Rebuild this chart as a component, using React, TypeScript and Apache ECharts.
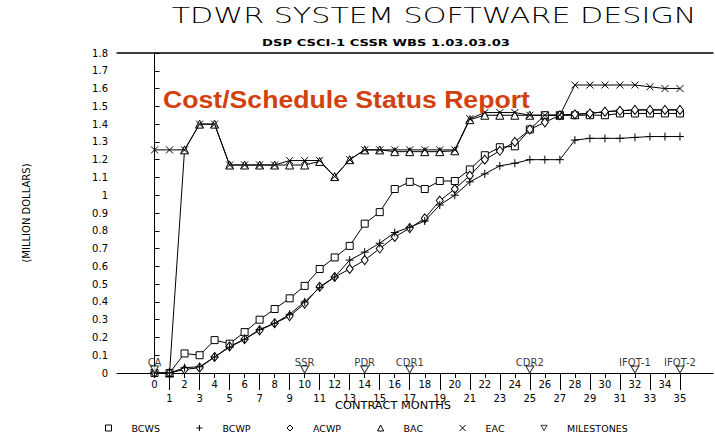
import React, { useEffect, useRef } from 'react';
import * as echarts from 'echarts';

// ---- data ----
const months = [0, 1, 2, 3, 4, 5, 6, 7, 8, 9, 10, 11, 12, 13, 14, 15, 16, 17, 18, 19, 20, 21, 22, 23, 24, 25, 26, 27, 28, 29, 30, 31, 32, 33, 34, 35];
const oddMonths = [1, 3, 5, 7, 9, 11, 13, 15, 17, 19, 21, 23, 25, 27, 29, 31, 33, 35];

const bcws = [0, 0, 0.11, 0.10, 0.185, 0.165, 0.23, 0.30, 0.36, 0.42, 0.49, 0.585, 0.65, 0.715, 0.84, 0.905, 1.035, 1.075, 1.035, 1.08, 1.08, 1.145, 1.225, 1.27, 1.275, 1.37, 1.45, 1.45, 1.45, 1.45, 1.45, 1.46, 1.46, 1.46, 1.46, 1.46];
const bcwp = [0, 0, 0.03, 0.035, 0.09, 0.145, 0.19, 0.245, 0.28, 0.33, 0.40, 0.48, 0.54, 0.635, 0.68, 0.73, 0.79, 0.82, 0.855, 0.945, 1.00, 1.075, 1.12, 1.165, 1.18, 1.20, 1.20, 1.20, 1.31, 1.32, 1.32, 1.32, 1.325, 1.33, 1.33, 1.33];
const acwp = [0, 0, 0.02, 0.03, 0.09, 0.15, 0.19, 0.24, 0.28, 0.32, 0.39, 0.485, 0.54, 0.585, 0.635, 0.70, 0.765, 0.815, 0.87, 0.97, 1.035, 1.11, 1.20, 1.25, 1.30, 1.37, 1.41, 1.45, 1.455, 1.46, 1.47, 1.475, 1.48, 1.48, 1.48, 1.48];
const bac = [null, 0, 1.255, 1.40, 1.40, 1.17, 1.17, 1.17, 1.17, 1.17, 1.17, 1.19, 1.105, 1.20, 1.255, 1.255, 1.245, 1.245, 1.245, 1.245, 1.25, 1.425, 1.45, 1.45, 1.45, 1.45, 1.45, 1.45, 1.455, 1.46, 1.47, 1.475, 1.48, 1.48, 1.48, 1.48];
const eac = [1.255, 1.255, 1.255, 1.40, 1.40, 1.17, 1.17, 1.17, 1.17, 1.195, 1.195, 1.195, 1.105, 1.20, 1.255, 1.255, 1.255, 1.255, 1.255, 1.255, 1.255, 1.43, 1.465, 1.465, 1.465, 1.45, 1.45, 1.45, 1.62, 1.62, 1.62, 1.62, 1.62, 1.61, 1.60, 1.60];

const milestoneMonths = [0, 10, 14, 17, 25, 32, 35];
const milestoneNames = ['CA', 'SSR', 'PDR', 'CDR1', 'CDR2', 'IFQT-1', 'IFQT-2'];

const TITLE = 'TDWR SYSTEM SOFTWARE DESIGN';
const SUBTITLE = 'DSP CSCI-1 CSSR WBS 1.03.03.03';
const OVERLAY = 'Cost/Schedule Status Report';
const X_NAME = 'CONTRACT MONTHS';
const Y_NAME = '(MILLION DOLLARS)';

const FONT = 'DejaVu Sans';

const PLUS = 'path://M5,0L5,10M0,5L10,5';
const CROSS = 'path://M0,0L10,10M10,0L0,10';
const DOWN_TRI = 'path://M0,0L10,0L5,9Z';

function measure(text: string, font: string): number {
  const ctx = document.createElement('canvas').getContext('2d');
  if (!ctx) return 100;
  ctx.font = font;
  return ctx.measureText(text).width || 100;
}

function pairs(vals: (number | null)[]) {
  return months.map((m, i) => [m, vals[i] == null ? '-' : vals[i]]);
}

export default function App() {
  const ref = useRef<HTMLDivElement>(null);
  useEffect(() => {
    if (!ref.current) return;
    const chart = echarts.init(ref.current, null, { renderer: 'svg' });

    const titleFont = `200 21px "${FONT}"`;
    const subFont = `600 9px "${FONT}"`;
    const redFont = `bold 24px "Liberation Sans"`;
    const xnFont = `10px "${FONT}"`;
    const titleSx = 525 / measure(TITLE, titleFont);
    const subSx = 248 / measure(SUBTITLE, subFont);
    const redSx = 367 / measure(OVERLAY, redFont);
    const xnSx = 116 / measure(X_NAME, xnFont);

    const lineBase = {
      type: 'line' as const,
      clip: false,
      animation: false,
      symbolSize: 7,
      showAllSymbol: true,
      lineStyle: { color: '#000', width: 1 },
      itemStyle: { color: '#fff', borderColor: '#000', borderWidth: 1 },
      emphasis: { disabled: true },
    };

    const xMin = -2.5;
    const xMax = 37.2;

    const option: any = {
      animation: false,
      backgroundColor: '#fff',
      textStyle: { fontFamily: FONT, color: '#000' },
      grid: { left: 117, right: 2, top: 53, bottom: 60 },
      xAxis: [
        {
          type: 'value',
          min: xMin,
          max: xMax,
          position: 'bottom',
          axisLine: { show: true, onZero: false, lineStyle: { color: '#000', width: 1 } },
          axisTick: { show: true, customValues: months, length: 5, lineStyle: { color: '#000' } },
          axisLabel: {
            show: true,
            customValues: months,
            margin: 4,
            fontSize: 10,
            lineHeight: 14,
            color: '#000',
            fontFamily: FONT,
            formatter: (v: number) => (Math.round(v) % 2 === 1 ? '\n' + v : String(v)),
          },
          splitLine: { show: false },
        },
        {
          type: 'value',
          min: xMin,
          max: xMax,
          position: 'bottom',
          axisLine: { show: false, onZero: false },
          axisTick: { show: true, customValues: oddMonths, length: 17, lineStyle: { color: '#000' } },
          axisLabel: { show: false },
          splitLine: { show: false },
        },
        {
          type: 'value',
          min: xMin,
          max: xMax,
          position: 'top',
          axisLine: { show: true, onZero: false, lineStyle: { color: '#000', width: 1.5 } },
          axisTick: { show: false },
          axisLabel: { show: false },
          splitLine: { show: false },
        },
      ],
      yAxis: {
        type: 'value',
        min: 0,
        max: 1.8,
        interval: 0.1,
        name: Y_NAME,
        nameLocation: 'middle',
        nameGap: 86,
        nameRotate: 90,
        nameTextStyle: { fontSize: 10, color: '#000', fontFamily: FONT },
        axisLine: { show: true, lineStyle: { color: '#000', width: 1 } },
        axisTick: { show: true, inside: true, length: 5, lineStyle: { color: '#000' } },
        axisLabel: {
          margin: 9,
          fontSize: 10,
          color: '#000',
          fontFamily: FONT,
          formatter: (v: number) => String(Number(v.toFixed(1))),
        },
        splitLine: { show: false },
      },
      legend: {
        left: 100,
        top: 418,
        itemWidth: 6,
        itemHeight: 6,
        itemGap: 36,
        itemStyle: { borderWidth: 1 },
        textStyle: {
          fontFamily: FONT,
          fontSize: 9.5,
          color: '#000',
          rich: { n: { padding: [0, 0, 0, 15], fontSize: 9.5, fontFamily: FONT, color: '#000' } },
        },
        formatter: (name: string) => `{n|${name}}`,
        selectedMode: false,
        data: [
          { name: 'BCWS', icon: 'rect' },
          { name: 'BCWP', icon: PLUS },
          { name: 'ACWP', icon: 'diamond' },
          { name: 'BAC', icon: 'triangle' },
          { name: 'EAC', icon: CROSS },
          { name: 'MILESTONES', icon: DOWN_TRI },
        ],
      },
      series: [
        { ...lineBase, name: 'BAC', symbol: 'triangle', symbolSize: 8, data: pairs(bac), z: 3 },
        { ...lineBase, name: 'EAC', symbol: CROSS, symbolSize: 7, itemStyle: { color: 'transparent', borderColor: '#000', borderWidth: 1 }, data: pairs(eac), z: 4 },
        { ...lineBase, name: 'BCWS', symbol: 'rect', data: pairs(bcws), z: 3 },
        { ...lineBase, name: 'ACWP', symbol: 'diamond', symbolSize: [7, 9], data: pairs(acwp), z: 3 },
        { ...lineBase, name: 'BCWP', symbol: PLUS, symbolSize: 8, itemStyle: { color: 'transparent', borderColor: '#000', borderWidth: 1 }, data: pairs(bcwp), z: 4 },
        {
          type: 'scatter',
          name: 'MILESTONES',
          clip: false,
          symbol: DOWN_TRI,
          symbolSize: [8, 7],
          symbolOffset: [0, -3.5],
          itemStyle: { color: '#fff', borderColor: '#000', borderWidth: 1 },
          emphasis: { disabled: true },
          label: {
            show: true,
            position: 'top',
            distance: -2,
            formatter: '{b}',
            fontSize: 10,
            color: '#000',
            fontFamily: FONT,
          },
          data: milestoneMonths.map((m, i) => ({ name: milestoneNames[i], value: [m, 0] })),
          z: 5,
        },
      ],
      graphic: [
        {
          type: 'text',
          x: 434,
          y: 16,
          scaleX: titleSx,
          style: { text: TITLE, font: titleFont, fill: '#000', textAlign: 'center', textVerticalAlign: 'middle' },
        },
        {
          type: 'text',
          x: 386,
          y: 43,
          scaleX: subSx,
          style: { text: SUBTITLE, font: subFont, fill: '#000', textAlign: 'center', textVerticalAlign: 'middle' },
        },
        {
          type: 'text',
          x: 163,
          y: 99,
          scaleX: redSx,
          z: 10,
          style: { text: OVERLAY, font: redFont, fill: '#d2400e', textAlign: 'left', textVerticalAlign: 'middle' },
        },
        {
          type: 'text',
          x: 393,
          y: 406,
          scaleX: xnSx,
          style: { text: X_NAME, font: xnFont, fill: '#000', textAlign: 'center', textVerticalAlign: 'middle' },
        },
      ],
    };

    chart.setOption(option);
    return () => chart.dispose();
  }, []);

  return (
    <div
      ref={ref}
      style={{ position: 'fixed', left: 0, top: 0, width: 715, height: 433, background: '#fff' }}
    />
  );
}
